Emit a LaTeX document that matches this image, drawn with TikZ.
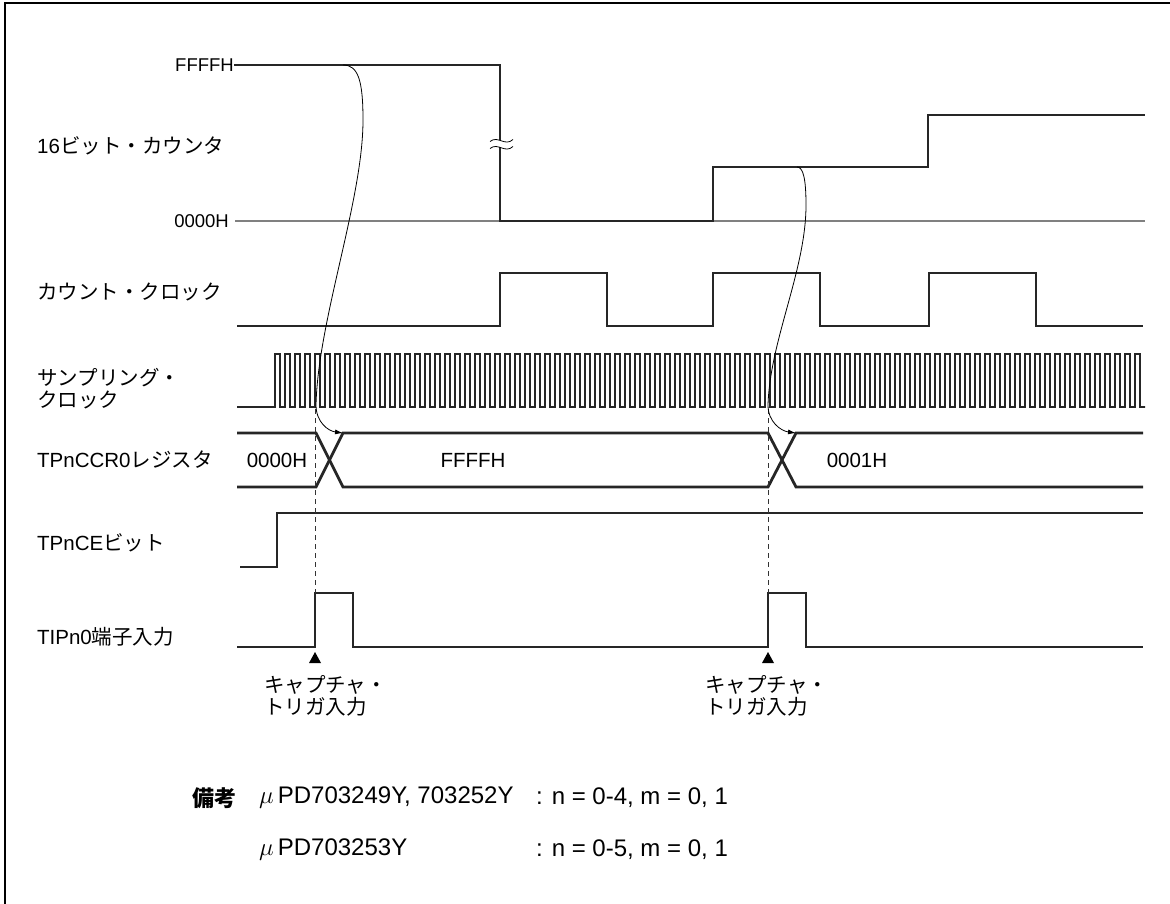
\documentclass[tikz,border=0pt]{standalone}
\usepackage{fontspec}
\setmainfont{Liberation Sans}
\newfontfamily\jp{Noto Sans CJK JP}
\usetikzlibrary{arrows.meta,positioning,calc}

\begin{document}
\begin{tikzpicture}[x=1pt, y=-1pt,
    sig/.style={line width=2.8pt, black!85, line join=miter},
    clk/.style={line width=2pt, black!85, line join=miter},
    refl/.style={line width=1.3pt, black!50},
    guide/.style={line width=1pt, dashed, dash pattern=on 5pt off 4pt, black!80},
    arr/.style={-{Latex[length=8pt, width=5pt]}, line width=0.8pt},
    lbl/.style={anchor=west, inner sep=0pt, align=left, font=\fontsize{20.5}{22}\selectfont},
    axl/.style={anchor=east, inner sep=0pt, font=\fontsize{18.5}{20}\selectfont},
    val/.style={inner sep=0pt, font=\fontsize{20.5}{22}\selectfont},
    note/.style={anchor=west, inner sep=0pt, font=\fontsize{24}{26}\selectfont}
]
\useasboundingbox (0,0) rectangle (1170,904);
\draw[line width=2.6pt] (5,910) -- (5,3) -- (1175,3);

% signal names
\node[lbl] (cnt) at (37,146) {16{\jp ビット・カウンタ}};
\node[lbl] (cclk) at (37,292) {\jp カウント・クロック};
\node[lbl] (sclk) at (37,389) {\jp サンプリング・\\\jp クロック};
\node[lbl] (ccr) at (37,460) {TPnCCR0{\jp レジスタ}};
\node[lbl] (ce) at (37,543) {TPnCE{\jp ビット}};
\node[lbl] (tip) at (37,637) {TIPn0{\jp 端子入力}};

% 16-bit counter
\node[axl] (ffff) at (234,65) {FFFFH};
\node[axl] (zero) at (229,221) {0000H};
\draw[refl] (zero.east) ++(6,0) -- (1145,221);
\draw[sig] (ffff.east) -- (500,65) -- (500,221) -- (713,221) -- (713,167)
    -- (928,167) -- (928,115) -- (1145,115);
% break mark
\fill[white] (488,140.5) rectangle (515,147.5);
\draw[line width=0.8pt] (490,141.5) .. controls (498,135) and (505,147) .. (513,139.5);
\draw[line width=0.8pt] (490,148.5) .. controls (498,142) and (505,154) .. (513,146.5);

% count clock
\draw[sig] (237,326) foreach \x in {500,713,929} {
    -- (\x,326) -- (\x,273) -- ($(\x,273)+(107,0)$) -- ($(\x,326)+(107,0)$)}
    -- (1143,326);

% sampling clock
\draw[clk] (237,407) -- (275,407) foreach \i in {0,...,86} {
    -- ++(0,-53) -- ++(5,0) -- ++(0,53) -- ++(5,0)} -- (1143,407);

% TPnCCR0 register
\draw[sig] (237,433) -- (316,433) -- (343,487) -- (768,487) -- (796,433) -- (1143,433);
\draw[sig] (237,487) -- (316,487) -- (343,433) -- (768,433) -- (796,487) -- (1143,487);
\node[val] (v0) at (277,460) {0000H};
\node[val] (v1) at (473,460) {FFFFH};
\node[val] (v2) at (857,460) {0001H};

% TPnCE bit
\draw[sig] (240,567) -- (277,567) -- (277,513) -- (1143,513);

% TIPn0 input
\draw[sig] (237,647) -- (315,647) -- (315,593) -- (353,593) -- (353,647)
    -- (768,647) -- (768,593) -- (806,593) -- (806,647) -- (1143,647);

% capture timing
\coordinate (c1) at (315,409);
\coordinate (c2) at (768,409);
\draw[guide] (c1) -- (315,593);
\draw[guide] (c2) -- (768,593);
\fill (315,652) -- (321,663) -- (309,663) -- cycle;
\fill (768,652) -- (774,663) -- (762,663) -- cycle;
\node[lbl] (trg1) at (264,696) {\jp キャプチャ・\\\jp トリガ入力};
\node[lbl] (trg2) at (705,696) {\jp キャプチャ・\\\jp トリガ入力};

% transfer arrows
\coordinate (a1) at (343,65);
\coordinate (b1) at (343,433);
\coordinate (a2) at (797,167);
\coordinate (b2) at (796,433);
\draw[arr] (a1) .. controls (358,65) and (363,80) .. (363,120)
    .. controls (363,200) and (318,320) .. (316,405)
    .. controls (316,422) and (328,431) .. (b1);
\draw[arr] (a2) .. controls (803,167) and (806,178) .. (806,205)
    .. controls (806,270) and (770,340) .. (768,405)
    .. controls (768,422) and (781,431) .. (b2);

% remarks
\node[note, anchor=east, font=\fontsize{22}{24}\selectfont] (rem) at (237,798) {\jp\bfseries 備考};
\node[note] (dev1) at (259,798) {$\mu$\,PD703249Y, 703252Y};
\node[note] (rng1) at (536,798) {: n = 0-4, m = 0, 1};
\node[note] (dev2) at (259,850) {$\mu$\,PD703253Y};
\node[note] (rng2) at (536,850) {: n = 0-5, m = 0, 1};
\end{tikzpicture}
\end{document}
